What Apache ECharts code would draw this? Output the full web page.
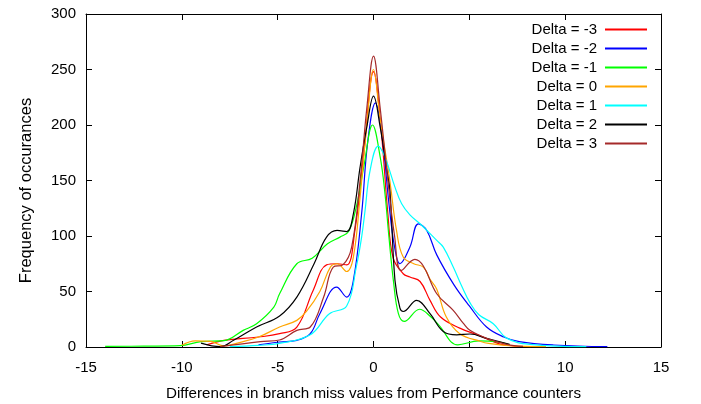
<!DOCTYPE html>
<html>
<head>
<meta charset="utf-8">
<script src="https://cdn.jsdelivr.net/npm/echarts@6/dist/echarts.min.js"></script>
<style>
  html, body { margin: 0; padding: 0; background: #fff; }
  #diagram { width: 701px; height: 404px; }
</style>
</head>
<body>
<div id="diagram"></div>
<script>
// values, [difference, frequency]
var deltaM3 = [[-8.7,2],[-7.8,6],[-6,9],[-4.9,12],[-4,18],[-3.15,51],[-2.45,74],[-1.9,75],[-1.4,74],[-0.97,105],[-0.5,175],[0,248],[0.4,195],[0.75,120],[1.03,80],[1.55,66],[1.9,63],[2.43,59],[2.95,42],[3.5,27],[4.5,17],[5.56,10],[6.77,2],[8.2,0.3]];
var deltaM2 = [[-6,2],[-4.9,4.5],[-4,6],[-3.3,12],[-2.8,30],[-1.92,54],[-1.4,45],[-1.05,60],[-0.62,120],[-0.3,185],[0.1,220],[0.45,190],[0.8,130],[1.1,90],[1.38,75],[1.9,90],[2.34,111],[2.78,105],[3.3,83],[4.2,56],[5.0,37],[5.9,18],[6.8,9],[7.6,4.8],[9.4,1.8],[12.2,0.3]];
var deltaM1 = [[-14,0.5],[-12,0.8],[-10.1,1.2],[-9,4.8],[-7.8,5.7],[-6.8,15],[-6.1,21],[-5.2,36],[-4.9,48],[-4,75],[-3.2,80],[-2.4,93],[-1.75,99],[-1.3,104],[-0.9,126],[-0.5,163],[-0.05,200],[0.35,171],[0.6,138],[0.8,100],[1.05,58],[1.3,30],[1.6,23],[2.4,34],[3.0,27],[3.4,20],[4.4,2],[5.5,5.5],[6.4,4.8],[7.1,2]];
var delta0 = [[-10,1.5],[-9.3,5.5],[-8.5,5],[-7.8,1],[-7,4],[-6,9],[-4.9,18],[-4,24],[-3.5,32],[-2.8,50],[-2.25,72],[-1.9,75],[-1.4,68],[-1.05,81],[-0.7,135],[-0.35,200],[0,250],[0.35,205],[0.85,150],[1.2,105],[1.55,81],[2.1,75],[2.6,72],[2.95,61],[3.3,52],[3.8,27],[4.5,12],[5.6,5],[6,3.3],[7.1,1.2],[9,0.3]];
var delta1 = [[-7.5,0.3],[-6,1.5],[-4.9,3.3],[-3.3,11],[-2.3,30],[-1.4,37],[-0.9,72],[-0.62,99],[-0.44,123],[-0.18,159],[0.25,181],[0.6,171],[1.12,144],[1.47,129],[1.9,119],[2.43,111],[3.3,96],[3.64,90],[4.16,72],[4.6,55],[5.03,40],[5.5,29],[6.25,21],[6.95,8],[8.16,2.4],[11.1,0.3]];
var delta2 = [[-9,3.5],[-8,0.3],[-7.3,6],[-6.1,18],[-4.9,28],[-4,45],[-3.1,75],[-2.45,99],[-1.9,105],[-1.4,104],[-1.05,120],[-0.7,162],[-0.35,198],[0,226],[0.35,198],[0.69,160],[0.86,140],[1.12,60],[1.38,35],[1.55,32],[2.25,42],[2.95,30],[3.64,14],[4.34,11],[5.03,11.7],[5.9,7.8],[7.1,2.4]];
var delta3 = [[-8,0.3],[-5.9,4.8],[-4.9,6.3],[-4,15],[-3.3,18],[-2.6,45],[-2.1,72],[-1.6,74],[-1.14,90],[-0.7,150],[-0.35,215],[0,262],[0.35,215],[0.75,150],[1.1,100],[1.45,69],[2.16,79],[2.6,73],[3.3,48],[4.16,33],[4.7,21],[5.03,15],[5.9,7.8],[6.95,2.4],[7.8,0.6]];

var seriesNames = ["Delta = -3", "Delta = -2", "Delta = -1", "Delta = 0", "Delta = 1", "Delta = 2", "Delta = 3"];
var seriesData = [deltaM3, deltaM2, deltaM1, delta0, delta1, delta2, delta3];
var colors = ["#ff0000", "#0000ff", "#00ff00", "#ffa500", "#00ffff", "#000000", "#a52a2a"];

var font = "Liberation Sans";

var myChart = echarts.init(document.getElementById("diagram"));

var series = seriesNames.map(function (name, i) {
  return {
    name: name,
    type: "line",
    data: seriesData[i],
    smooth: 0.4,
    symbol: "none",
    lineStyle: { width: 1.2, color: colors[i] },
    itemStyle: { color: colors[i] }
  };
});

var option = {
  animation: false,
  color: colors,
  textStyle: { fontFamily: font },
  grid: { left: 86, right: 40, top: 14, bottom: 57, outerBoundsMode: "none" },
  legend: {
    data: seriesNames,
    orient: "vertical",
    align: "right",
    right: 54,
    top: 22,
    padding: 0,
    itemWidth: 42,
    itemHeight: 2,
    itemGap: 4,
    icon: "rect",
    textStyle: { fontFamily: font, fontSize: 15, color: "#000", padding: [0, 3, 0, 0] }
  },
  xAxis: [
    {
      type: "value",
      min: -15, max: 15, interval: 5,
      name: "Differences in branch miss values from Performance counters",
      nameLocation: "middle",
      nameGap: 39,
      nameTextStyle: { fontFamily: font, fontSize: 15.2, color: "#000" },
      axisLine: { onZero: false, lineStyle: { color: "#000", width: 1 } },
      axisTick: { inside: true, length: 6, lineStyle: { color: "#000" } },
      axisLabel: { margin: 13, fontFamily: font, fontSize: 15, color: "#000" },
      splitLine: { show: false }
    },
    {
      type: "value", position: "top",
      min: -15, max: 15, interval: 5,
      axisLine: { onZero: false, lineStyle: { color: "#000", width: 1 } },
      axisTick: { inside: true, length: 6, lineStyle: { color: "#000" } },
      axisLabel: { show: false },
      splitLine: { show: false }
    }
  ],
  yAxis: [
    {
      type: "value",
      min: 0, max: 300, interval: 50,
      name: "Frequency of occurances",
      nameLocation: "middle",
      nameGap: 51,
      nameTextStyle: { fontFamily: font, fontSize: 16.5, color: "#000", padding: [0, 20, 0, 0] },
      axisLine: { show: true, onZero: false, lineStyle: { color: "#000", width: 1 } },
      axisTick: { show: true, inside: true, length: 6, lineStyle: { color: "#000" } },
      axisLabel: { margin: 10, fontFamily: font, fontSize: 15, color: "#000" },
      splitLine: { show: false }
    },
    {
      type: "value", position: "right",
      min: 0, max: 300, interval: 50,
      axisLine: { show: true, onZero: false, lineStyle: { color: "#000", width: 1 } },
      axisTick: { show: true, inside: true, length: 6, lineStyle: { color: "#000" } },
      axisLabel: { show: false },
      splitLine: { show: false }
    }
  ],
  series: series
};
myChart.setOption(option);
</script>
</body>
</html>
